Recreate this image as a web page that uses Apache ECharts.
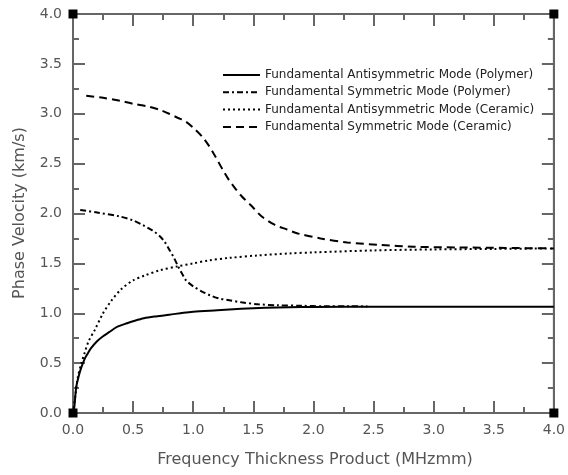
<!DOCTYPE html>
<html>
<head>
<meta charset="utf-8">
<script src="https://cdn.jsdelivr.net/npm/echarts@6.0.0/dist/echarts.min.js"></script>
<style>
  html, body { margin: 0; padding: 0; background: #fff; }
  #chart { width: 568px; height: 475px; }
</style>
</head>
<body>
<div id="chart"></div>
<script>
// Fundamental antisymmetric mode, polymer (solid)
const a0PolymerX = [0, 0.01, 0.027, 0.05, 0.07, 0.1, 0.124, 0.15, 0.2, 0.25, 0.3, 0.37, 0.45, 0.5, 0.59, 0.7, 0.8, 0.92, 1.0, 1.2, 1.4, 1.6, 1.8, 2.0, 2.5, 3.0, 3.5, 4.0];
const a0PolymerY = [0, 0.05, 0.26, 0.38, 0.46, 0.55, 0.6, 0.65, 0.72, 0.77, 0.81, 0.865, 0.9, 0.92, 0.95, 0.97, 0.985, 1.005, 1.015, 1.03, 1.045, 1.055, 1.06, 1.063, 1.065, 1.065, 1.065, 1.065];

// Fundamental symmetric mode, polymer (dash-dot)
const s0PolymerX = [0.06, 0.2, 0.39, 0.5, 0.58, 0.66, 0.72, 0.76, 0.8, 0.84, 0.87, 0.91, 0.94, 1.0, 1.07, 1.14, 1.21, 1.3, 1.4, 1.54, 1.7, 1.9, 2.1, 2.3, 2.45];
const s0PolymerY = [2.035, 2.01, 1.97, 1.93, 1.885, 1.83, 1.775, 1.72, 1.64, 1.555, 1.48, 1.39, 1.33, 1.27, 1.22, 1.18, 1.15, 1.13, 1.11, 1.09, 1.08, 1.075, 1.07, 1.07, 1.068];

// Fundamental antisymmetric mode, ceramic (dotted)
const a0CeramicX = [0, 0.02, 0.04, 0.07, 0.096, 0.13, 0.18, 0.25, 0.316, 0.4, 0.5, 0.6, 0.72, 0.87, 1.0, 1.13, 1.3, 1.54, 1.8, 2.0, 2.5, 3.0, 3.5, 4.0];
const a0CeramicY = [0, 0.18, 0.36, 0.5, 0.6, 0.72, 0.83, 1.0, 1.12, 1.24, 1.33, 1.38, 1.43, 1.47, 1.5, 1.53, 1.555, 1.58, 1.6, 1.61, 1.63, 1.64, 1.645, 1.65];

// Fundamental symmetric mode, ceramic (dashed)
const s0CeramicX = [0.11, 0.25, 0.39, 0.5, 0.635, 0.72, 0.8, 0.87, 0.94, 1.0, 1.075, 1.13, 1.185, 1.24, 1.295, 1.35, 1.405, 1.49, 1.57, 1.68, 1.78, 1.87, 2.06, 2.28, 2.56, 2.83, 3.2, 3.6, 4.0];
const s0CeramicY = [3.18, 3.16, 3.13, 3.1, 3.07, 3.04, 3.0, 2.96, 2.92, 2.86, 2.77, 2.68, 2.57, 2.45, 2.34, 2.25, 2.17, 2.07, 1.97, 1.885, 1.84, 1.8, 1.75, 1.71, 1.685, 1.667, 1.66, 1.655, 1.65];

const seriesNames = [
  'Fundamental Antisymmetric Mode (Polymer)',
  'Fundamental Symmetric Mode (Polymer)',
  'Fundamental Antisymmetric Mode (Ceramic)',
  'Fundamental Symmetric Mode (Ceramic)'
];
const dashPatterns = [null, [6, 3, 2, 3], [2, 3], [8, 5]];

const xAxisTitle = 'Frequency Thickness Product (MHzmm)';
const yAxisTitle = 'Phase Velocity (km/s)';

// corner markers of the frame
const cornerPoints = [[0, 0], [0, 4], [4, 0], [4, 4]];

const zip = (xs, ys) => xs.map((x, i) => [x, ys[i]]);

const axisGrey = '#666';
const labelGrey = '#555';
const font = 'DejaVu Sans';

const oneDecimal = v => (typeof v === 'number' ? v.toFixed(1) : String(v));

// shared frame axis: 0..4, major tick every 0.5, minor every 0.25, ticks inward
function frameAxis(position, extra) {
  return Object.assign({
    type: 'value',
    min: 0,
    max: 4,
    interval: 0.5,
    position: position,
    axisLine: { show: true, onZero: false, lineStyle: { color: axisGrey, width: 2 } },
    axisTick: { show: true, inside: true, length: 12, lineStyle: { color: axisGrey, width: 2 } },
    minorTick: { show: true, splitNumber: 2, length: 6, lineStyle: { color: axisGrey, width: 2 } },
    splitLine: { show: false },
    axisLabel: { show: false }
  }, extra);
}

// legend drawn as plain graphic rows (sample line + label)
const legendLeft = 223;
const legendTop = 75;
const legendRow = 17.3;
const legendItems = [];
seriesNames.forEach((name, i) => {
  const y = legendTop + i * legendRow;
  const style = { stroke: '#000', lineWidth: 2 };
  if (dashPatterns[i]) style.lineDash = dashPatterns[i];
  legendItems.push({
    type: 'line',
    shape: { x1: legendLeft, y1: y, x2: legendLeft + 37, y2: y },
    style: style,
    silent: true
  });
  legendItems.push({
    type: 'text',
    x: legendLeft + 42,
    y: y,
    silent: true,
    style: {
      text: name, font: '12px "DejaVu Sans"', fill: '#222',
      align: 'left', verticalAlign: 'middle', textAlign: 'left', textVerticalAlign: 'middle'
    }
  });
});

const chart = echarts.init(document.getElementById('chart'));

const lineBase = {
  type: 'line',
  showSymbol: false,
  symbol: 'none',
  smooth: 0.3,
  color: '#000',
  xAxisIndex: 0,
  yAxisIndex: 0
};

const seriesData = [
  zip(a0PolymerX, a0PolymerY),
  zip(s0PolymerX, s0PolymerY),
  zip(a0CeramicX, a0CeramicY),
  zip(s0CeramicX, s0CeramicY)
];

const series = seriesNames.map((name, i) => Object.assign({}, lineBase, {
  name: name,
  data: seriesData[i],
  lineStyle: { color: '#000', width: 2, type: dashPatterns[i] || 'solid' }
}));

series[0].markPoint = {
  silent: true,
  symbol: 'rect',
  symbolSize: 9,
  itemStyle: { color: '#000' },
  label: { show: false },
  data: cornerPoints.map(c => ({ coord: c }))
};

chart.setOption({
  animation: false,
  backgroundColor: '#fff',
  grid: {
    left: 73, right: 10, top: 14, bottom: 62,
    show: true, borderColor: axisGrey, borderWidth: 2, backgroundColor: 'transparent'
  },
  graphic: [
    {
      type: 'text',
      x: 315,
      y: 460,
      style: {
        text: xAxisTitle, font: '16px "DejaVu Sans"', fill: labelGrey,
        align: 'center', verticalAlign: 'middle', textAlign: 'center', textVerticalAlign: 'middle'
      }
    },
    {
      type: 'text',
      x: 20,
      y: 213,
      rotation: Math.PI / 2,
      style: {
        text: yAxisTitle, font: '16px "DejaVu Sans"', fill: labelGrey,
        align: 'center', verticalAlign: 'middle', textAlign: 'center', textVerticalAlign: 'middle'
      }
    }
  ].concat(legendItems),
  xAxis: [
    frameAxis('bottom', {
      axisLabel: { show: true, fontFamily: font, fontSize: 14, color: labelGrey, margin: 10, formatter: oneDecimal }
    }),
    frameAxis('top', {})
  ],
  yAxis: [
    frameAxis('left', {
      axisLabel: { show: true, fontFamily: font, fontSize: 14, color: labelGrey, margin: 11, formatter: oneDecimal }
    }),
    frameAxis('right', {})
  ],
  series: series
});

window.addEventListener('resize', () => chart.resize());
</script>
</body>
</html>
